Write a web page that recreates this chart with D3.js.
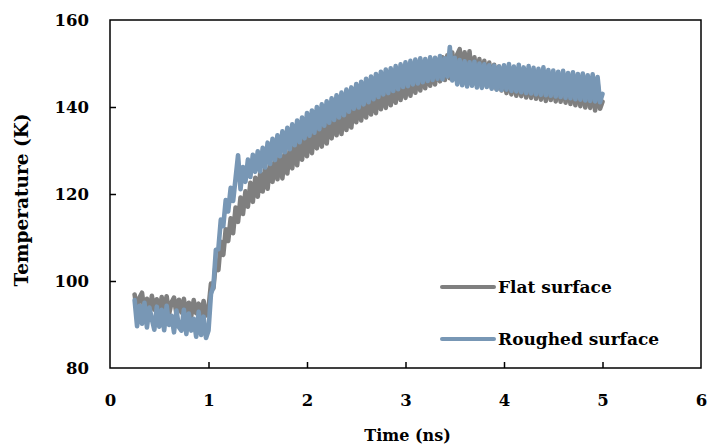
<!DOCTYPE html>
<html>
<head>
<meta charset="utf-8">
<script src="https://cdn.jsdelivr.net/npm/d3@7"></script>
<style>
  body { margin: 0; background: #fff; }
  text { font-family: "DejaVu Serif", serif; font-weight: bold; fill: #000; }
</style>
</head>
<body>
<div id="chart"></div>
<script>
// sampling of the two runs (ns)
const startTime = 0.25;
const timeStep = 0.025;

// Flat surface temperature (K)
const flatTemps = [
  96.9, 93.0, 96.2, 97.3, 92.8, 95.9, 92.5, 96.6, 93.4, 95.8,
  92.6, 96.3, 93.1, 96.5, 92.4, 95.1, 96.2, 92.3, 95.7, 92.8,
  95.9, 91.9, 95.0, 92.0, 95.6, 92.6, 94.8, 91.6, 95.4, 92.1,
  93.6, 99.4, 98.3, 104.6, 102.5, 109.0, 106.0, 111.9, 109.2, 114.4,
  111.0, 116.9, 113.6, 119.2, 115.4, 120.6, 117.1, 122.6, 118.2, 123.7,
  119.4, 124.8, 120.6, 125.9, 121.2, 127.1, 122.8, 128.3, 123.4, 129.2,
  123.6, 129.3, 124.7, 130.4, 125.9, 131.9, 126.6, 132.8, 127.9, 133.6,
  128.7, 134.6, 129.4, 135.3, 130.5, 135.9, 130.9, 136.8, 131.6, 137.1,
  132.8, 138.5, 133.5, 138.9, 133.8, 139.8, 134.7, 140.1, 135.3, 141.0,
  136.5, 141.9, 136.9, 142.6, 137.6, 143.2, 138.3, 143.7, 138.6, 144.5,
  139.5, 144.9, 139.8, 145.5, 140.4, 146.0, 141.0, 146.7, 141.6, 147.1,
  142.1, 147.6, 142.6, 148.2, 143.3, 148.7, 143.8, 149.2, 144.3, 149.7,
  144.9, 150.3, 145.2, 150.8, 145.9, 151.4,
  146.2, 151.9, 146.6, 152.5, 146.9, 152.1, 153.3, 146.4, 152.6, 146.7,
  152.8, 146.0, 151.4, 145.6, 151.0, 145.2, 150.6, 144.9, 150.2, 144.5, 149.7, 144.1, 149.3, 143.8,
  149.0, 143.2, 148.6, 142.9, 148.9, 142.6, 148.3, 142.5, 148.1, 142.2,
  147.9, 142.1, 148.4, 141.9, 147.6, 141.7, 147.3, 141.4, 147.8, 141.6,
  147.2, 141.3, 147.0, 141.2, 146.9, 141.0, 146.5, 140.7, 146.6, 140.4,
  146.1, 140.2, 146.3, 139.9, 145.9, 139.8, 146.8, 139.2, 145.6, 139.6, 141.2
];

// Roughed surface temperature (K)
const roughTemps = [
  95.6, 89.6, 94.3, 90.2, 95.0, 89.3, 93.9, 91.2, 88.8, 94.1,
  89.5, 93.4, 88.7, 94.3, 89.9, 92.0, 88.2, 93.2, 89.4, 88.6,
  93.4, 87.8, 92.5, 88.6, 91.3, 87.2, 92.9, 87.6, 91.8, 86.9,
  88.6, 97.0, 98.8, 107.2, 107.3, 114.1, 112.6, 118.6, 116.0, 121.4,
  118.4, 123.6, 128.9, 121.1, 126.2, 122.8, 127.9, 123.9, 129.0, 125.1,
  129.8, 125.2, 130.6, 126.1, 131.8, 126.9, 132.7, 127.8, 133.5, 128.7,
  134.4, 129.6, 135.2, 130.3, 136.0, 131.2, 136.9, 131.9, 137.6, 132.8,
  138.6, 133.4, 139.2, 134.1, 140.0, 134.9, 140.6, 135.7, 141.3, 136.4,
  142.0, 137.0, 142.7, 137.6, 143.3, 138.1, 144.0, 138.9, 144.5, 139.6,
  145.3, 139.9, 145.8, 140.6, 146.5, 141.1, 147.0, 141.8, 147.6, 142.3,
  148.1, 142.9, 148.6, 143.2, 148.9, 143.7, 149.4, 144.1, 149.8, 144.6,
  150.3, 144.8, 150.6, 145.2, 150.9, 145.4, 151.2, 145.7, 151.0, 146.0,
  151.4, 146.2, 151.3, 146.5, 151.7, 146.4, 151.2, 147.0,
  153.8,
  146.1, 151.3, 145.2, 150.8, 145.0, 150.5, 144.7, 150.3, 144.9, 150.4, 144.5,
  150.0, 144.4, 149.8, 144.6, 149.6, 144.2, 149.5, 144.0, 149.3, 143.9,
  149.6, 144.0, 149.9, 143.7, 149.3, 143.6, 149.7, 143.4, 149.1, 143.2,
  149.4, 143.1, 149.0, 142.9, 148.8, 142.8, 149.1, 142.7, 148.5, 142.6,
  148.4, 142.4, 148.1, 142.3, 148.3, 142.1, 147.8, 142.0, 148.0, 141.8,
  147.6, 141.7, 147.7, 141.5, 147.3, 141.4, 147.5, 141.3, 146.9, 141.1, 143.0
];

const seriesNames = ["Flat surface", "Roughed surface"];
const seriesColors = ["#7f7f7f", "#7897b5"];
const xTicks = [0, 1, 2, 3, 4, 5, 6];
const yTicks = [80, 100, 120, 140, 160];

const width = 709, height = 447;
const margin = { top: 20, right: 8, bottom: 79, left: 110 };

const svg = d3.select("#chart").append("svg")
  .attr("width", width)
  .attr("height", height);

const x = d3.scaleLinear().domain([0, 6]).range([margin.left, width - margin.right]);
const y = d3.scaleLinear().domain([80, 160]).range([height - margin.bottom, margin.top]);

const toPoints = vals => vals.map((v, i) => ({ t: startTime + i * timeStep, v: v }));
const series = [toPoints(flatTemps), toPoints(roughTemps)];

const line = d3.line()
  .x(d => x(d.t))
  .y(d => y(d.v));

// data lines (roughed drawn on top)
series.forEach((s, i) => {
  svg.append("path")
    .datum(s)
    .attr("fill", "none")
    .attr("stroke", seriesColors[i])
    .attr("stroke-width", 4.6)
    .attr("stroke-linejoin", "round")
    .attr("stroke-linecap", "round")
    .attr("d", line);
});

// frame
svg.append("rect")
  .attr("x", x(0))
  .attr("y", y(160))
  .attr("width", x(6) - x(0))
  .attr("height", y(80) - y(160))
  .attr("fill", "none")
  .attr("stroke", "#000")
  .attr("stroke-width", 1.5);

// axes with inward ticks
const xAxis = svg.append("g")
  .attr("transform", `translate(0,${y(80)})`)
  .call(d3.axisBottom(x).tickValues(xTicks).tickSize(-6).tickPadding(26).tickFormat(d3.format("d")));
const yAxis = svg.append("g")
  .attr("transform", `translate(${x(0)},0)`)
  .call(d3.axisLeft(y).tickValues(yTicks).tickSize(-6).tickPadding(21).tickFormat(d3.format("d")));

[xAxis, yAxis].forEach(a => {
  a.select(".domain").remove();
  a.selectAll(".tick line").attr("stroke", "#000").attr("stroke-width", 1.5);
  a.selectAll(".tick text")
    .style("font-family", '"DejaVu Serif", serif')
    .style("font-weight", "bold")
    .style("font-size", "16.5px");
});
xAxis.selectAll(".tick line").filter(d => d === 0 || d === 6).remove();
yAxis.selectAll(".tick line").filter(d => d === 80 || d === 160).remove();

// axis titles
svg.append("text")
  .attr("x", (x(0) + x(6)) / 2 + 2)
  .attr("y", 441)
  .attr("text-anchor", "middle")
  .style("font-size", "16px")
  .text("Time (ns)");

svg.append("text")
  .attr("transform", `translate(28,${(y(80) + y(160)) / 2 + 6}) rotate(-90)`)
  .attr("text-anchor", "middle")
  .style("font-size", "18.5px")
  .text("Temperature (K)");

// legend
const legendY = [287, 339];
seriesNames.forEach((name, i) => {
  svg.append("line")
    .attr("x1", 442).attr("x2", 494)
    .attr("y1", legendY[i]).attr("y2", legendY[i])
    .attr("stroke", seriesColors[i])
    .attr("stroke-width", 4)
    .attr("stroke-linecap", "round");
  svg.append("text")
    .attr("x", 498)
    .attr("y", legendY[i] + 6)
    .style("font-size", "17px")
    .text(name);
});
</script>
</body>
</html>
